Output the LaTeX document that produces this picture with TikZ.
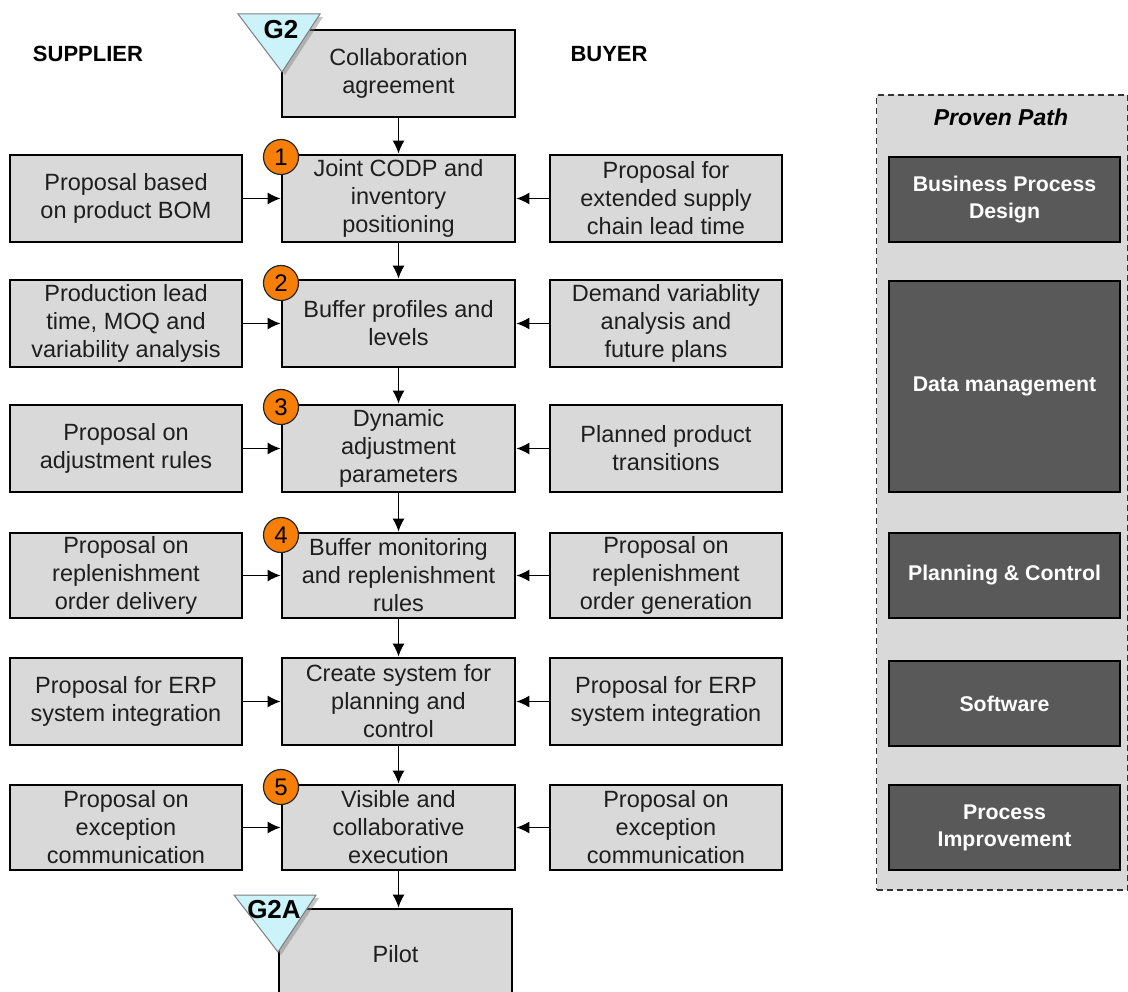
\documentclass[tikz,border=0pt]{standalone}
\usepackage{fontspec}
\setmainfont{Liberation Sans}
\usetikzlibrary{arrows.meta,shadows}
\definecolor{boxgrey}{HTML}{D9D9D9}
\definecolor{boxtext}{HTML}{1E1E1E}
\definecolor{darkbox}{HTML}{595959}
\definecolor{gatefill}{HTML}{CCF3F9}
\definecolor{gateedge}{HTML}{7F7F7F}
\definecolor{badgefill}{HTML}{F77F08}
\begin{document}
\begin{tikzpicture}[x=1pt,y=-1pt,
  stepbox/.style={draw=black,line width=2.8pt,fill=boxgrey,minimum width=232pt,
    minimum height=87pt,align=center,inner sep=0pt,text=boxtext,
    font=\fontsize{23.5}{28}\selectfont},
  pathbox/.style={draw=black,line width=1.4pt,fill=darkbox,minimum width=231pt,
    minimum height=85pt,align=center,inner sep=0pt,text=white,
    font=\bfseries\fontsize{21.3}{27}\selectfont},
  flow/.style={line width=1.4pt,-{Latex[length=13pt,width=12pt]}},
  badge/.style={circle,draw=black!85,line width=1.2pt,fill=badgefill,minimum size=35pt,
    inner sep=0pt,font=\fontsize{24}{24}\selectfont},
  gate/.style={fill=gatefill,draw=gateedge,line width=1pt,
    drop shadow={shadow xshift=3pt,shadow yshift=-3pt,opacity=0.45}},
  gatelabel/.style={inner sep=0pt,font=\bfseries\fontsize{26}{26}\selectfont},
  lane/.style={font=\bfseries\fontsize{22}{24}\selectfont,inner sep=0pt}]
\useasboundingbox (0,0) rectangle (1128,992);
\clip (0,0) rectangle (1128,992);
\fill[white] (0,0) rectangle (1128,992);

% lane headings
\node[lane] (supplier) at (88,54) {SUPPLIER};
\node[lane] (buyer) at (609,54) {BUYER};

% main column
\node[stepbox,minimum width=233pt] (top) at (398.5,73.5) {Collaboration\\agreement};
\node[stepbox,minimum width=233pt] (c1) at (398.5,198.5) {Joint CODP and\\inventory\\positioning};
\node[stepbox,minimum width=233pt] (c2) at (398.5,323.5) {Buffer profiles and\\levels};
\node[stepbox,minimum width=233pt] (c3) at (398.5,448.5) {Dynamic\\adjustment\\parameters};
\node[stepbox,minimum width=233pt,minimum height=85pt] (c4) at (398.5,575.5) {Buffer monitoring\\and replenishment\\rules};
\node[stepbox,minimum width=233pt] (c5) at (398.5,701.5) {Create system for\\planning and\\control};
\node[stepbox,minimum width=233pt,minimum height=85pt] (c6) at (398.5,827.5) {Visible and\\collaborative\\execution};
\node[stepbox,minimum width=233pt,minimum height=90pt] (pilot) at (395.5,954) {Pilot};

% supplier inputs
\node[stepbox] (l1) at (126,198.5) {Proposal based\\on product BOM};
\node[stepbox] (l2) at (126,323.5) {Production lead\\time, MOQ and\\variability analysis};
\node[stepbox] (l3) at (126,448.5) {Proposal on\\adjustment rules};
\node[stepbox,minimum height=85pt] (l4) at (126,575.5) {Proposal on\\replenishment\\order delivery};
\node[stepbox] (l5) at (126,701.5) {Proposal for ERP\\system integration};
\node[stepbox,minimum height=85pt] (l6) at (126,827.5) {Proposal on\\exception\\communication};

% buyer inputs
\node[stepbox] (r1) at (666,198.5) {Proposal for\\extended supply\\chain lead time};
\node[stepbox] (r2) at (666,323.5) {Demand variablity\\analysis and\\future plans};
\node[stepbox] (r3) at (666,448.5) {Planned product\\transitions};
\node[stepbox,minimum height=85pt] (r4) at (666,575.5) {Proposal on\\replenishment\\order generation};
\node[stepbox] (r5) at (666,701.5) {Proposal for ERP\\system integration};
\node[stepbox,minimum height=85pt] (r6) at (666,827.5) {Proposal on\\exception\\communication};

% main flow
\draw[flow] (top.south) -- (c1.north);
\draw[flow] (c1.south) -- (c2.north);
\draw[flow] (c2.south) -- (c3.north);
\draw[flow] (c3.south) -- (c4.north);
\draw[flow] (c4.south) -- (c5.north);
\draw[flow] (c5.south) -- (c6.north);
\draw[flow] (c6.south) -- (c6.south |- pilot.north);

% side inputs
\foreach \i in {1,...,6}{
  \draw[flow] (l\i.east) -- (c\i.west);
  \draw[flow] (r\i.west) -- (c\i.east);
}

% gates
\path[gate] (238,14) -- (320,14) -- (282,72) -- cycle;
\node[gatelabel] (g2) at (281,30) {G2};
\path[gate] (234,895) -- (316,895) -- (278,952) -- cycle;
\node[gatelabel] (g2a) at (274,910) {G2A};

% step numbers
\node[badge] (b1) at (281,157) {1};
\node[badge] (b2) at (281,283) {2};
\node[badge] (b3) at (281,407) {3};
\node[badge] (b4) at (281,535) {4};
\node[badge] (b5) at (281,787) {5};

% proven path panel
\node[draw=black!80,line width=1.4pt,dash pattern=on 6pt off 4pt,fill=boxgrey,
  minimum width=251pt,minimum height=795pt,inner sep=0pt] (panel) at (1002,492.5) {};
\node[font=\bfseries\itshape\fontsize{23}{26}\selectfont,inner sep=0pt] (ptitle) at (1001,117) {Proven Path};
\node[pathbox] (p1) at (1004.5,199.5) {Business Process\\Design};
\node[pathbox,minimum height=211pt] (p2) at (1004.5,386.5) {Data management};
\node[pathbox] (p3) at (1004.5,575.5) {Planning \& Control};
\node[pathbox] (p4) at (1004.5,703.5) {Software};
\node[pathbox] (p5) at (1004.5,827.5) {Process\\Improvement};
\end{tikzpicture}
\end{document}
